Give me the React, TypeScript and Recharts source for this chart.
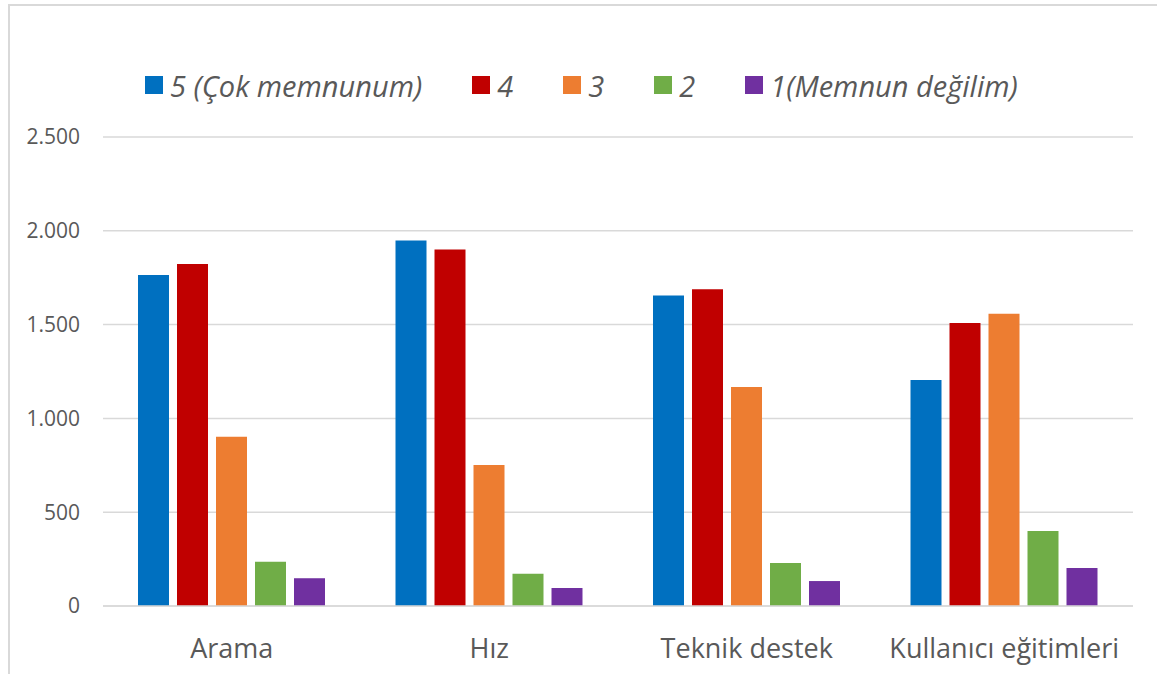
import React from "react";
import { BarChart, Bar, XAxis, YAxis, CartesianGrid } from "recharts";

const categories = ["Arama", "Hız", "Teknik destek", "Kullanıcı eğitimleri"];
const seriesNames = ["5 (Çok memnunum)", "4", "3", "2", "1(Memnun değilim)"];
const seriesColors = ["#0070C0", "#C00000", "#ED7D31", "#70AD47", "#7030A0"];
const s5 = [1765, 1948, 1655, 1205];
const s4 = [1823, 1900, 1688, 1508];
const s3 = [902, 752, 1168, 1558];
const s2 = [236, 172, 229, 400];
const s1 = [148, 96, 133, 203];
const yTicks = [0, 500, 1000, 1500, 2000, 2500];

const seriesValues = [s5, s4, s3, s2, s1];
const keys = ["s5", "s4", "s3", "s2", "s1"];

const data = categories.map((c, i) => {
  const row: Record<string, string | number> = { name: c };
  keys.forEach((k, j) => {
    row[k] = seriesValues[j][i];
  });
  return row;
});

const fmt = (v: number) => String(v).replace(/\B(?=(\d{3})+(?!\d))/g, ".");

const font = "'Open Sans', sans-serif";

export default function App() {
  return (
    <div
      style={{
        position: "absolute",
        left: 0,
        top: 0,
        width: 1157,
        height: 674,
        overflow: "hidden",
        background: "#fff",
        fontFamily: font,
      }}
    >
      <div
        style={{
          position: "absolute",
          left: 8,
          top: 4,
          width: 1300,
          height: 800,
          border: "2px solid #d9d9d9",
          boxSizing: "border-box",
        }}
      />
      <div style={{ position: "absolute", left: 0, top: 0 }}>
        <BarChart
          width={1157}
          height={674}
          data={data}
          margin={{ top: 137, right: 24, bottom: 0, left: 0 }}
          barCategoryGap={35}
          barGap={8}
        >
          <CartesianGrid vertical={false} stroke="#d9d9d9" strokeWidth={1.5} />
          <XAxis
            dataKey="name"
            height={68}
            axisLine={{ stroke: "#d9d9d9", strokeWidth: 1.5 }}
            tickLine={false}
            tickSize={0}
            tickMargin={33}
            tick={{ fill: "#595959", fontSize: 27, fontFamily: font }}
            interval={0}
          />
          <YAxis
            width={103}
            domain={[0, 2500]}
            ticks={yTicks}
            axisLine={false}
            tickLine={false}
            tickSize={0}
            tickMargin={23}
            tickFormatter={fmt}
            tick={{ fill: "#595959", fontSize: 21, fontFamily: font }}
          />
          {keys.map((k, j) => (
            <Bar
              key={k}
              dataKey={k}
              name={seriesNames[j]}
              fill={seriesColors[j]}
              isAnimationActive={false}
            />
          ))}
        </BarChart>
      </div>
      <div
        style={{
          position: "absolute",
          left: 145,
          top: 66,
          height: 38,
          display: "flex",
          alignItems: "center",
        }}
      >
        {seriesNames.map((n, j) => (
          <div
            key={n}
            style={{ display: "flex", alignItems: "center", marginRight: 50 }}
          >
            <div
              style={{
                width: 18,
                height: 18,
                background: seriesColors[j],
                marginRight: 7,
              }}
            />
            <span
              style={{
                fontStyle: "italic",
                fontSize: 29,
                color: "#595959",
                whiteSpace: "nowrap",
                fontFamily: font,
              }}
            >
              {n}
            </span>
          </div>
        ))}
      </div>
    </div>
  );
}
